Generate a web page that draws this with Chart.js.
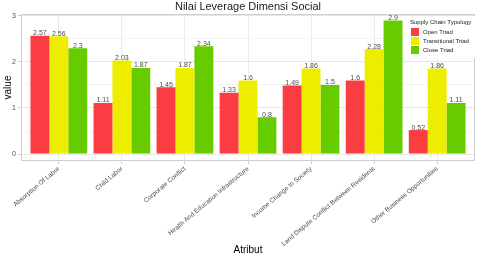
<!DOCTYPE html>
<html>
<head>
<meta charset="utf-8">
<script src="https://cdn.jsdelivr.net/npm/chart.js@4/dist/chart.umd.min.js"></script>
<style>
  html, body { margin: 0; padding: 0; background: #fff; }
  #wrap { width: 480px; height: 258px; }
</style>
</head>
<body>
<div id="wrap"><canvas id="grafico" width="480" height="258"></canvas></div>
<script>
// atribut (kategori)
let categories = ['Absorption Of Labor', 'Child Labor', 'Corporate Conflict', 'Health And Education Infrastructure',
  'Income Change In Society', 'Land Dispute Conflict Between Residents', 'Other Business Opportunities'];
let openTriad = [2.57, 1.11, 1.45, 1.33, 1.49, 1.6, 0.52];
let transitionalTriad = [2.56, 2.03, 1.87, 1.6, 1.86, 2.28, 1.86];
let closeTriad = [2.3, 1.87, 2.34, 0.8, 1.5, 2.9, 1.11];
let yTicks = [0, 1, 2, 3];
let seriesNames = ['Open Triad', 'Transitional Triad', 'Close Triad'];
let seriesColors = ['#FA3D42', '#EDED00', '#66CC00'];

const toPoints = arr => arr.map((v, i) => ({x: i, y: v}));

// label angka di atas batang
const labelPlugin = {
  id: 'labelBatang',
  afterDatasetsDraw(chart) {
    const ctx = chart.ctx;
    ctx.save();
    ctx.font = '7px "Liberation Sans", Arial, sans-serif';
    ctx.fillStyle = '#4d4d4d';
    ctx.textAlign = 'center';
    ctx.textBaseline = 'bottom';
    chart.data.datasets.forEach((ds, di) => {
      chart.getDatasetMeta(di).data.forEach((bar, i) => {
        ctx.fillText(String(ds.data[i].y), bar.x, bar.y + 1);
      });
    });
    ctx.restore();
  }
};

// judul, border panel dan legenda
const decorPlugin = {
  id: 'decor',
  beforeDraw(chart) {
    const ctx = chart.ctx;
    ctx.save();
    ctx.fillStyle = '#fff';
    ctx.fillRect(0, 0, chart.width, chart.height);
    ctx.restore();
  },
  afterDraw(chart) {
    const ctx = chart.ctx;
    const a = chart.chartArea;
    ctx.save();
    ctx.strokeStyle = '#cfcfcf';
    ctx.lineWidth = 1;
    ctx.strokeRect(a.left + 0.5, a.top + 0.5, a.right - a.left - 1, a.bottom - a.top - 1);

    ctx.fillStyle = '#1a1a1a';
    ctx.font = '11px "Liberation Sans", Arial, sans-serif';
    ctx.textAlign = 'center';
    ctx.textBaseline = 'middle';
    ctx.fillText('Nilai Leverage Dimensi Social', (a.left + a.right) / 2, 7);

    // legenda
    const lx = 407, ly = 16;
    ctx.fillStyle = '#fff';
    ctx.fillRect(lx, ly, 68, 42);
    ctx.textAlign = 'left';
    ctx.fillStyle = '#1a1a1a';
    ctx.font = '6px "Liberation Sans", Arial, sans-serif';
    ctx.fillText('Supply Chain Typology', lx + 3, ly + 6);
    seriesNames.forEach((name, i) => {
      const y = ly + 12 + i * 9;
      ctx.fillStyle = seriesColors[i];
      ctx.fillRect(lx + 4, y, 8, 8);
      ctx.fillStyle = '#1a1a1a';
      ctx.fillText(name, lx + 16, y + 4.5);
    });
    ctx.restore();
  }
};

const ctxGrafico = document.getElementById('grafico');
let config = {
  type: 'bar',
  data: {
    datasets: [
      { label: seriesNames[0], data: toPoints(openTriad), backgroundColor: seriesColors[0] },
      { label: seriesNames[1], data: toPoints(transitionalTriad), backgroundColor: seriesColors[1] },
      { label: seriesNames[2], data: toPoints(closeTriad), backgroundColor: seriesColors[2] }
    ]
  },
  options: {
    responsive: false,
    animation: false,
    layout: { padding: { top: 14, right: 5, left: 0, bottom: 0 } },
    datasets: { bar: { categoryPercentage: 0.9, barPercentage: 1.0, borderWidth: 0 } },
    plugins: { legend: { display: false }, tooltip: { enabled: false }, title: { display: false } },
    scales: {
      x: {
        type: 'linear',
        offset: false,
        min: -0.6,
        max: categories.length - 1 + 0.6,
        afterBuildTicks: s => { s.ticks = categories.map((c, i) => ({ value: i })); },
        afterFit: s => { s.height = 97; },
        ticks: {
          autoSkip: false,
          minRotation: 40,
          maxRotation: 40,
          padding: 1,
          color: '#4d4d4d',
          font: { size: 6.5, family: '"Liberation Sans", Arial, sans-serif' },
          callback: v => categories[v]
        },
        grid: { offset: false, color: '#ebebeb', tickColor: '#cfcfcf', tickLength: 3 },
        border: { display: false },
        title: {
          display: true, text: 'Atribut', color: '#000',
          font: { size: 10, family: '"Liberation Sans", Arial, sans-serif' },
          padding: { top: 0, bottom: 2 }
        }
      },
      y: {
        min: -0.152,
        max: 3.043,
        afterBuildTicks: s => {
          const t = [];
          for (let v = 0; v <= 3; v += 0.5) t.push({ value: v });
          s.ticks = t;
        },
        afterFit: s => { s.width = 21; },
        ticks: {
          padding: 2,
          color: '#4d4d4d',
          font: { size: 7, family: '"Liberation Sans", Arial, sans-serif' },
          callback: v => (yTicks.includes(v) ? String(v) : '')
        },
        grid: {
          color: c => (c.tick && yTicks.includes(c.tick.value) ? '#e6e6e6' : '#f3f3f3'),
          tickColor: c => (c.tick && yTicks.includes(c.tick.value) ? '#cfcfcf' : 'rgba(0,0,0,0)'),
          tickLength: 3
        },
        border: { display: false },
        title: {
          display: true, text: 'value', color: '#000',
          font: { size: 10, family: '"Liberation Sans", Arial, sans-serif' },
          padding: { top: 2, bottom: 0 }
        }
      }
    }
  },
  plugins: [decorPlugin, labelPlugin]
};
let chartGrafico = new Chart(ctxGrafico, config);
</script>
</body>
</html>
